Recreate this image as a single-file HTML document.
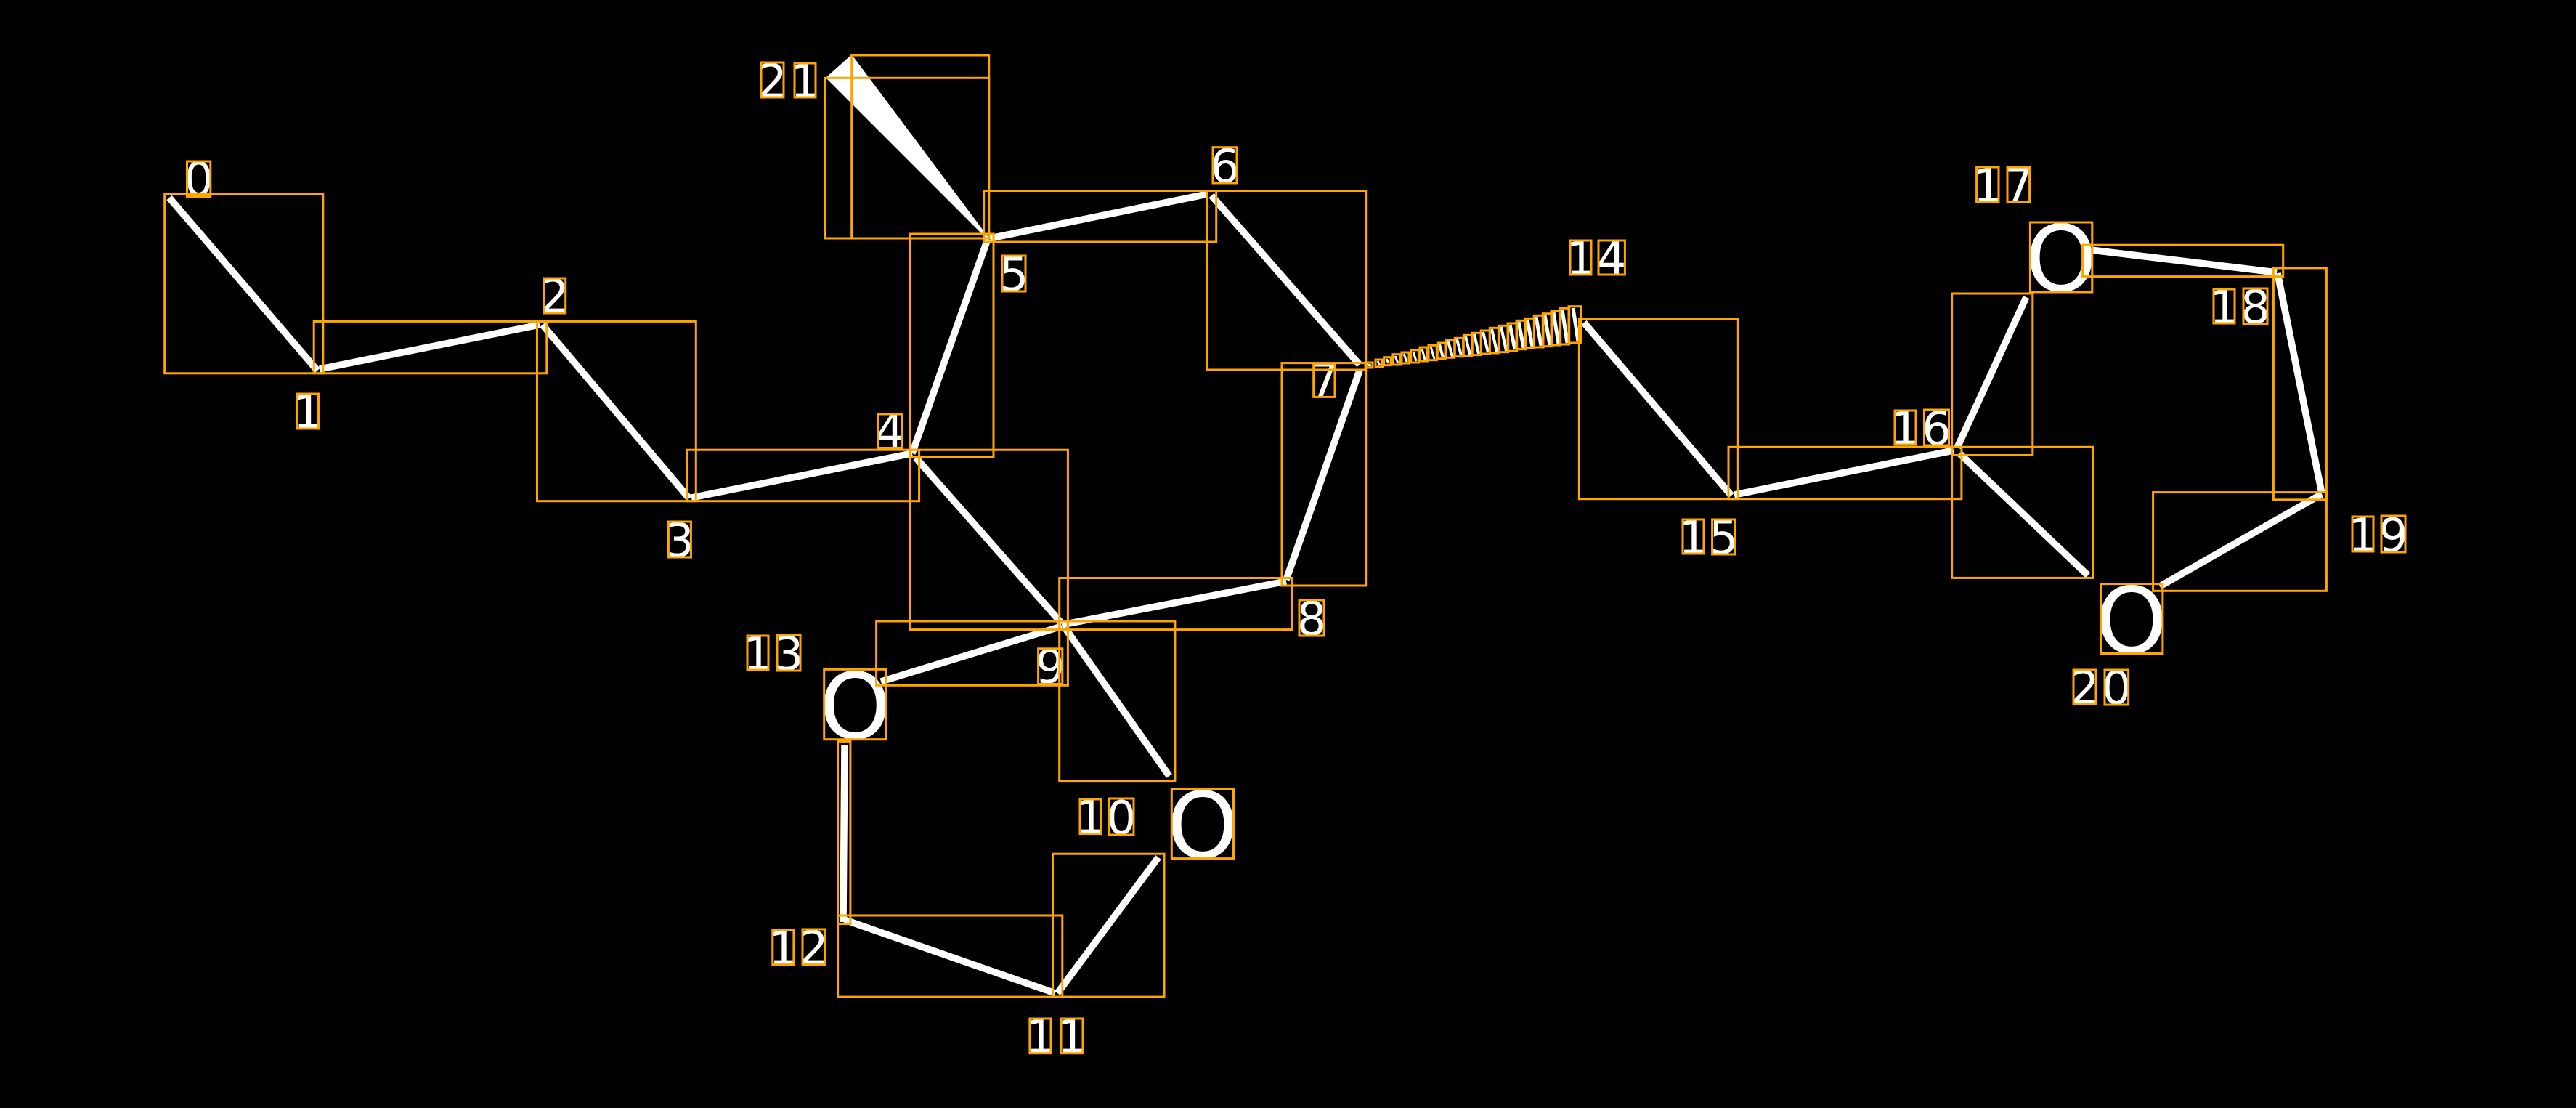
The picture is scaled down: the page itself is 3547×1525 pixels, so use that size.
<!DOCTYPE html>
<html><head><meta charset="utf-8"><style>
html,body{margin:0;padding:0;background:#000;width:3547px;height:1525px;overflow:hidden}
svg{display:block}
text{font-family:"DejaVu Sans",sans-serif;fill:#fff;text-anchor:middle}
.d{font-size:64px}
.o{font-size:126px}
.w line{stroke:#fff;stroke-width:9.5}
.h line{stroke:#fff}
.h1 line{stroke-width:3}
.h2 line{stroke-width:4}
.h3 line{stroke-width:5}
.b rect{fill:none;stroke:#ffa500;stroke-width:3}
</style></head><body>
<svg width="3547" height="1525" viewBox="0 0 3547 1525" xmlns="http://www.w3.org/2000/svg">
<rect width="3547" height="1525" fill="#000"/>
<g class="w">
<line x1="233" y1="272" x2="437" y2="510"/>
<line x1="440" y1="508" x2="743" y2="447"/>
<line x1="747" y1="447" x2="949" y2="686"/>
<line x1="952" y1="685" x2="1256" y2="624"/>
<line x1="1256" y1="624" x2="1360" y2="329"/>
<line x1="1261" y1="630" x2="1462" y2="858"/>
<line x1="1363" y1="328" x2="1663" y2="267"/>
<line x1="1668" y1="269" x2="1872" y2="502"/>
<line x1="1872" y1="510" x2="1771" y2="798"/>
<line x1="1771" y1="800" x2="1462" y2="860"/>
<line x1="1462" y1="862" x2="1213" y2="938"/>
<line x1="1467" y1="865" x2="1610" y2="1068"/>
<line x1="1163" y1="1025" x2="1161" y2="1269"/>
<line x1="1163" y1="1266" x2="1453" y2="1367"/>
<line x1="1456" y1="1367" x2="1595" y2="1180"/>
<line x1="2181" y1="444" x2="2384" y2="682"/>
<line x1="2388" y1="681" x2="2690" y2="620"/>
<line x1="2695" y1="616" x2="2790" y2="409"/>
<line x1="2698" y1="624" x2="2875" y2="792"/>
<line x1="2879" y1="344" x2="3135" y2="375"/>
<line x1="3136" y1="376" x2="3197" y2="679"/>
<line x1="3197" y1="680" x2="2974" y2="807"/>
</g>
<polygon points="1172.7,75 1137,107 1360,330 1362,328" fill="#fff"/>
<g class="h h1">
<line x1="1882" y1="502" x2="1888" y2="503"/>
<line x1="1897" y1="497" x2="1900" y2="503"/>
<line x1="1909" y1="494" x2="1912" y2="500"/>
<line x1="1921" y1="490" x2="1925" y2="500"/>
<line x1="1933" y1="487" x2="1937" y2="498"/>
<line x1="1946" y1="484" x2="1950" y2="497"/>
<line x1="1958" y1="480" x2="1962" y2="495"/>
<line x1="1970" y1="477" x2="1975" y2="494"/>
</g>
<g class="h h2">
<line x1="1982" y1="474" x2="1987" y2="492"/>
<line x1="1994" y1="470" x2="2000" y2="491"/>
<line x1="2006" y1="467" x2="2012" y2="489"/>
<line x1="2018" y1="463" x2="2024" y2="488"/>
<line x1="2030" y1="460" x2="2036" y2="487"/>
<line x1="2042" y1="457" x2="2049" y2="485"/>
<line x1="2054" y1="453" x2="2061" y2="484"/>
<line x1="2067" y1="450" x2="2074" y2="483"/>
</g>
<g class="h h3">
<line x1="2079" y1="447" x2="2086" y2="481"/>
<line x1="2091" y1="443" x2="2098" y2="479"/>
<line x1="2103" y1="440" x2="2110" y2="477"/>
<line x1="2115" y1="436" x2="2122" y2="476"/>
<line x1="2127" y1="434" x2="2134" y2="475"/>
<line x1="2139" y1="430" x2="2146" y2="473"/>
<line x1="2151" y1="426" x2="2158" y2="472"/>
<line x1="2166" y1="424" x2="2173" y2="470"/>
</g>
<g>
<text class="d" x="273.6" y="269">0</text>
<text class="d" x="424" y="589">1</text>
<text class="d" x="763.6" y="430">2</text>
<text class="d" x="935.5" y="766">3</text>
<text class="d" x="1225" y="616">4</text>
<text class="d" x="1396" y="400">5</text>
<text class="d" x="1686.5" y="251">6</text>
<text class="d" x="1823.4" y="546">7</text>
<text class="d" x="1806" y="874">8</text>
<text class="d" x="1446" y="940">9</text>
<text class="d" x="1501.5" y="1147">1</text><text class="d" x="1544" y="1148">0</text>
<text class="d" x="1432.5" y="1449">1</text><text class="d" x="1476" y="1449">1</text>
<text class="d" x="1078.5" y="1327">1</text><text class="d" x="1120.5" y="1327">2</text>
<text class="d" x="1043.5" y="922">1</text><text class="d" x="1086" y="922">3</text>
<text class="d" x="2176.5" y="378">1</text><text class="d" x="2219" y="378">4</text>
<text class="d" x="2331.5" y="762">1</text><text class="d" x="2373.3" y="762">5</text>
<text class="d" x="2623.5" y="612">1</text><text class="d" x="2666.5" y="612">6</text>
<text class="d" x="2737" y="278">1</text><text class="d" x="2779.3" y="278">7</text>
<text class="d" x="3062.5" y="445">1</text><text class="d" x="3105.5" y="445">8</text>
<text class="d" x="3253.5" y="759">1</text><text class="d" x="3295.5" y="759">9</text>
<text class="d" x="2870.5" y="969">2</text><text class="d" x="2914.3" y="969">0</text>
<text class="d" x="1063.5" y="134">2</text><text class="d" x="1108.5" y="134">1</text>
<text class="o" x="1177.3" y="1016">O</text>
<text class="o" x="1656" y="1180">O</text>
<text class="o" x="2838" y="400">O</text>
<text class="o" x="2935" y="898">O</text>
</g>
<g class="b">
<rect x="226.7" y="266.5" width="218.1" height="247.3"/>
<rect x="432.2" y="442.4" width="320.6" height="71.4"/>
<rect x="739.5" y="442.4" width="218.8" height="247.3"/>
<rect x="945.7" y="619.2" width="319.9" height="70.5"/>
<rect x="1136.4" y="107.3" width="225.3" height="220.7"/>
<rect x="1172.7" y="76" width="189" height="252"/>
<rect x="1252.6" y="322" width="115.4" height="307.5"/>
<rect x="1354.6" y="262.5" width="320.1" height="70.5"/>
<rect x="1662" y="262.5" width="218.7" height="246.5"/>
<rect x="1765" y="499.6" width="115.7" height="306.4"/>
<rect x="1252.6" y="619.2" width="217.8" height="247.4"/>
<rect x="1458.7" y="795.5" width="320.3" height="71.1"/>
<rect x="1206.6" y="855" width="263.8" height="88.3"/>
<rect x="1458.7" y="855" width="159.2" height="219.6"/>
<rect x="1134.7" y="921.3" width="85.2" height="96.4"/>
<rect x="1613.3" y="1086.5" width="85.2" height="95.1"/>
<rect x="1153.6" y="1020.4" width="17.3" height="251.2"/>
<rect x="1153.6" y="1260" width="309.2" height="112.1"/>
<rect x="1449.5" y="1175.2" width="153.5" height="196.9"/>
<rect x="2174.4" y="438.8" width="218.9" height="247.9"/>
<rect x="2380" y="615.3" width="320.9" height="71.4"/>
<rect x="2687.6" y="404" width="111.2" height="222.5"/>
<rect x="2687.6" y="615.3" width="194.1" height="180.1"/>
<rect x="2795.4" y="306" width="85.4" height="96"/>
<rect x="2867.6" y="337.2" width="276.1" height="43.4"/>
<rect x="3130.4" y="368.9" width="73" height="318.9"/>
<rect x="2964.6" y="677.6" width="238.8" height="135.7"/>
<rect x="2892.5" y="803.6" width="85.4" height="95.9"/>
<rect x="257.5" y="222" width="32.3" height="48.5"/>
<rect x="409" y="542" width="29.5" height="48"/>
<rect x="748.6" y="383" width="30.1" height="48"/>
<rect x="920.4" y="718" width="31" height="49"/>
<rect x="1208.5" y="570" width="34" height="46.5"/>
<rect x="1380" y="352" width="32" height="49"/>
<rect x="1670" y="202.7" width="33" height="49.3"/>
<rect x="1808.7" y="500.4" width="29.3" height="46"/>
<rect x="1789" y="826" width="34" height="49"/>
<rect x="1429.6" y="892.8" width="33.2" height="48.7"/>
<rect x="1487" y="1100" width="29" height="47.6"/>
<rect x="1527" y="1099" width="34" height="50"/>
<rect x="1417.9" y="1402" width="29.1" height="47.7"/>
<rect x="1461" y="1402" width="30" height="47.7"/>
<rect x="1063.8" y="1279.8" width="29.1" height="47.8"/>
<rect x="1105" y="1279" width="31" height="48.6"/>
<rect x="1029" y="875" width="29" height="47"/>
<rect x="1070" y="874" width="32" height="49"/>
<rect x="2162" y="331" width="29" height="47"/>
<rect x="2201" y="331" width="36.4" height="47"/>
<rect x="2317" y="715" width="29" height="47"/>
<rect x="2357.6" y="715" width="31.4" height="48"/>
<rect x="2609" y="565" width="29" height="47"/>
<rect x="2649.5" y="564" width="34" height="49"/>
<rect x="2721.6" y="230" width="30.4" height="48"/>
<rect x="2764" y="230" width="30.6" height="48"/>
<rect x="3048" y="398" width="29" height="47"/>
<rect x="3089" y="397" width="33" height="49"/>
<rect x="3239" y="711" width="29" height="48"/>
<rect x="3279" y="710" width="33" height="50"/>
<rect x="2855" y="922" width="31" height="47"/>
<rect x="2898" y="922" width="32.6" height="48"/>
<rect x="1048" y="86" width="31" height="48"/>
<rect x="1094" y="87" width="29" height="47"/>
<rect x="1880" y="499" width="10" height="7"/>
<rect x="1894" y="495" width="9.5" height="10"/>
<rect x="1905.7" y="491.7" width="9.3" height="11"/>
<rect x="1918" y="487.7" width="10.3" height="14.3"/>
<rect x="1930" y="485" width="10" height="15"/>
<rect x="1942.7" y="481.7" width="10.7" height="17.3"/>
<rect x="1955" y="478" width="10.3" height="19"/>
<rect x="1967" y="475.3" width="11.3" height="20.4"/>
<rect x="1979.3" y="472" width="10.7" height="21.7"/>
<rect x="1991" y="468.3" width="11.7" height="24"/>
<rect x="2003.3" y="465.3" width="11.3" height="25.4"/>
<rect x="2015.3" y="461.3" width="11.3" height="28.7"/>
<rect x="2027.3" y="458.3" width="12" height="30.4"/>
<rect x="2039.3" y="455" width="12" height="32"/>
<rect x="2051.3" y="451.3" width="12" height="34.7"/>
<rect x="2064" y="448.3" width="12.7" height="36.4"/>
<rect x="2076" y="445" width="12.7" height="38.3"/>
<rect x="2088" y="441.3" width="12.7" height="39.4"/>
<rect x="2100.3" y="438.3" width="12.3" height="41"/>
<rect x="2112.3" y="434.3" width="12.7" height="43.7"/>
<rect x="2124.3" y="431.7" width="12.3" height="45"/>
<rect x="2136" y="428.3" width="12.7" height="46.7"/>
<rect x="2148" y="424.3" width="12.7" height="49.7"/>
<rect x="2160" y="421.7" width="16.7" height="50.3"/>
</g>
</svg>
</body></html>
